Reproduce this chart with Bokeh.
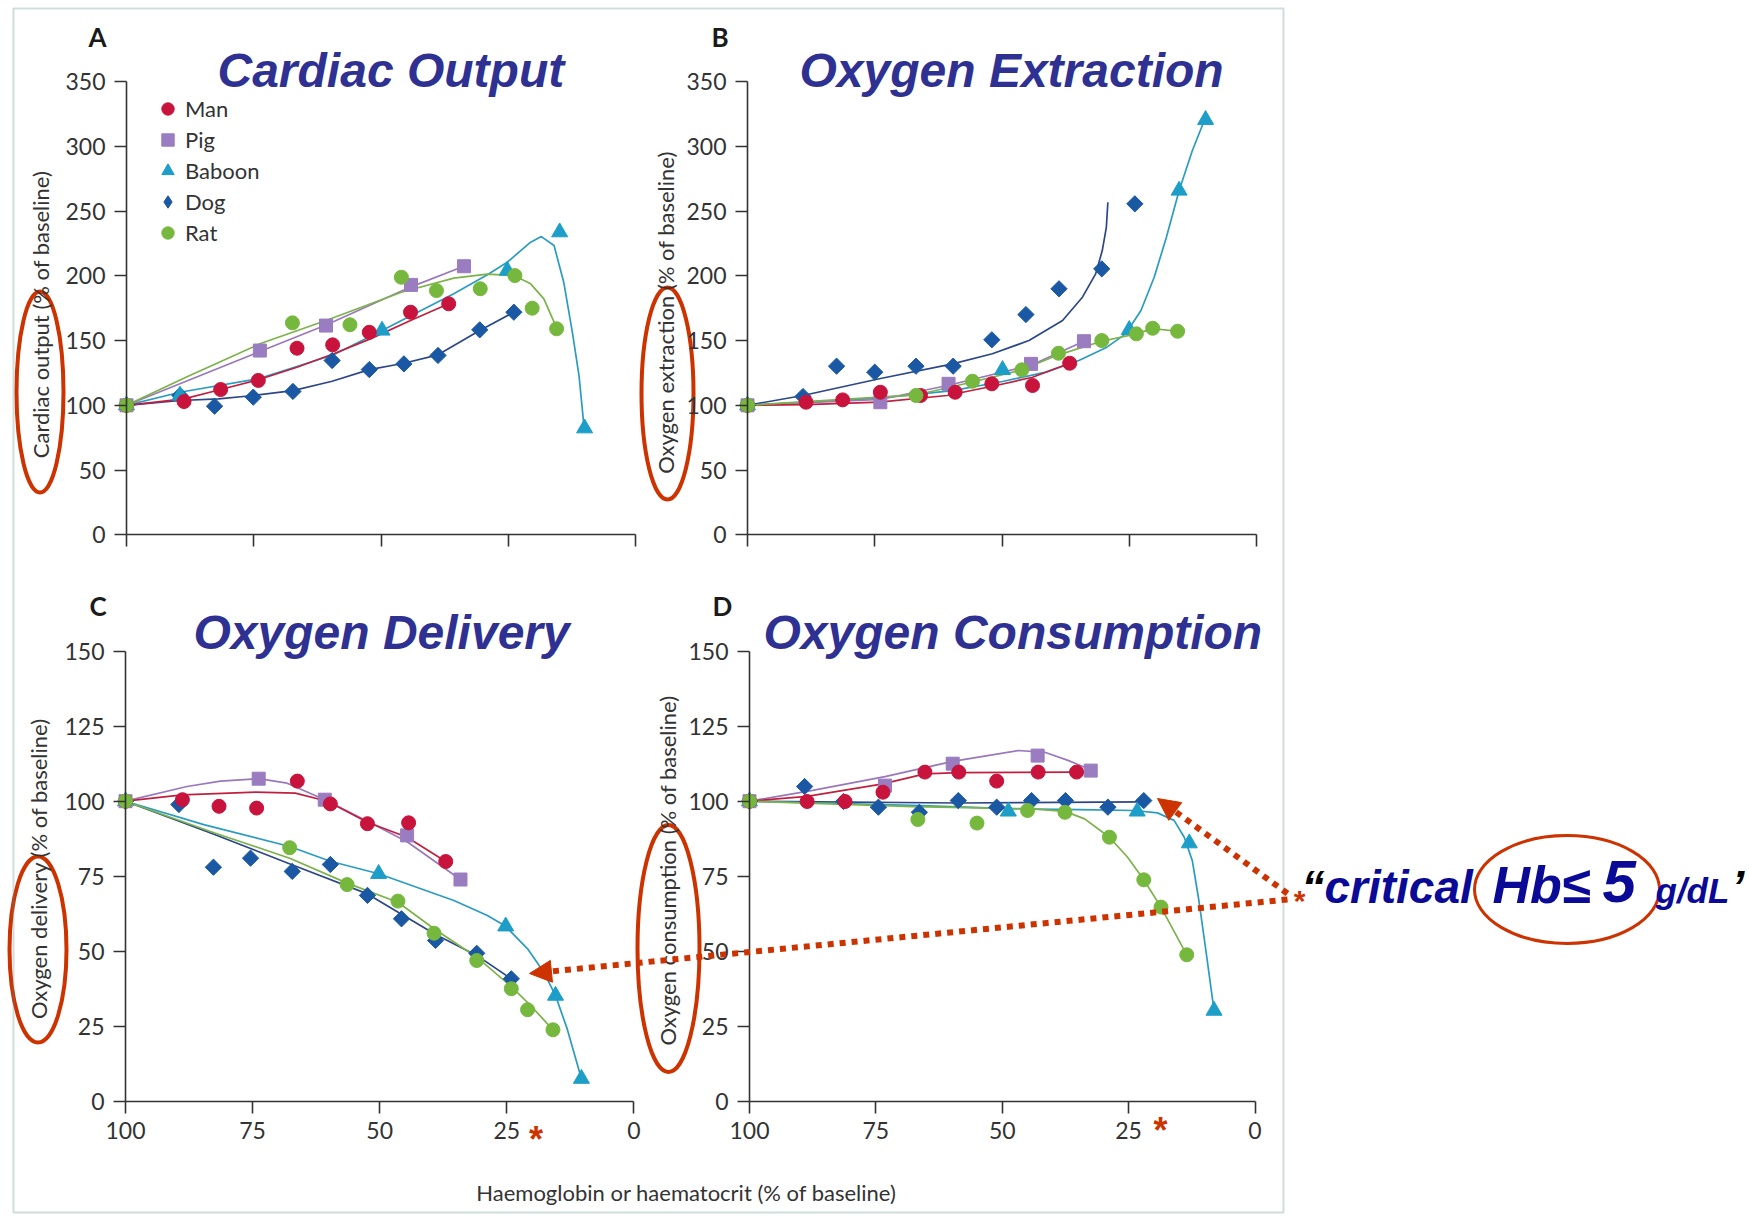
import math
from bokeh.plotting import figure
from bokeh.models import (Range1d, LinearAxis, FixedTicker, Label, Arrow, NormalHead,
                          Legend, LegendItem, BoxAnnotation)
from bokeh.embed import file_html
from bokeh.resources import INLINE

W, H = 1749, 1218

# ---------------- data (x = haemoglobin % of baseline) ----------------
SPECIES = ["Man", "Pig", "Baboon", "Dog", "Rat"]
X_TICKS = [0, 25, 50, 75, 100]
X_TICK_LABELS = ["0", "25", "50", "75", "100"]

# A  Cardiac output
co_man_x = [100, 88.7, 81.5, 74.1, 66.5, 59.5, 52.3, 44.2, 36.7]
co_man_y = [100, 102.9, 112.2, 119.2, 144.1, 146.7, 156.4, 171.9, 178.4]
co_man_fx = [100, 88.7, 81.5, 74.1, 66.5, 59.3, 52.1, 44.2, 36.7]
co_man_fy = [100, 105.0, 112.2, 119.7, 129.4, 139.8, 151.3, 165.5, 178.4]
co_pig_x = [100, 73.8, 60.8, 44.1, 33.7]
co_pig_y = [100, 142.3, 161.6, 193.0, 207.4]
co_pig_fx = [100, 73.8, 60.8, 44.1, 33.7]
co_pig_fy = [100, 141.5, 162.0, 191.5, 207.4]
co_bab_x = [100, 89.5, 49.8, 25.2, 14.9, 10.0]
co_bab_y = [100, 107.6, 157.8, 204.1, 233.7, 82.3]
co_bab_fx = [100, 89.5, 74.1, 59.3, 49.8, 35.7, 29.1, 25.2, 20.6, 18.5, 16.0, 14.1, 12.4, 11.1, 10.2]
co_bab_fy = [100, 110.1, 120.5, 139.0, 157.8, 186.1, 200.8, 210.5, 226.0, 230.3, 223.4, 195.1, 156.4, 123.0, 87.0]
co_dog_x = [100, 89.5, 82.7, 75.1, 67.3, 59.6, 52.3, 45.5, 38.8, 30.6, 23.9]
co_dog_y = [100, 107.6, 99.3, 106.3, 110.7, 134.6, 127.6, 132.0, 138.5, 158.3, 171.9]
co_dog_fx = [100, 89.4, 81.9, 75.0, 67.3, 59.6, 52.3, 45.5, 38.8, 30.6, 23.9]
co_dog_fy = [100, 103.7, 105.0, 107.6, 111.4, 118.6, 127.6, 132.5, 139.0, 157.8, 171.9]
co_rat_x = [100, 67.4, 56.1, 46.0, 39.1, 30.5, 23.7, 20.3, 15.5]
co_rat_y = [100, 163.7, 162.2, 198.9, 188.6, 190.0, 200.2, 175.0, 159.1]
co_rat_fx = [100, 88.1, 73.8, 60.8, 46.0, 35.7, 29.1, 23.9, 20.6, 18.0, 16.0, 15.5]
co_rat_fy = [100, 122.0, 147.5, 165.5, 187.3, 198.2, 201.3, 200.2, 193.8, 182.2, 164.2, 158.4]

# B  Oxygen extraction
oe_man_x = [100, 88.5, 81.3, 73.9, 66.0, 59.2, 52.0, 44.0, 36.7]
oe_man_y = [100, 102.4, 104.2, 110.1, 107.6, 110.1, 116.6, 115.3, 132.5]
oe_man_fx = [100, 88.5, 74.1, 60.8, 51.2, 44.0, 36.7]
oe_man_fy = [100, 100.6, 102.4, 107.6, 115.3, 121.7, 132.5]
oe_pig_x = [100, 73.9, 60.5, 44.3, 33.9]
oe_pig_y = [100, 102.4, 116.6, 132.0, 149.5]
oe_pig_fx = [100, 73.9, 60.5, 44.3, 33.9]
oe_pig_fy = [100, 104.5, 115.5, 131.0, 149.5]
oe_bab_x = [100, 49.9, 25.0, 15.2, 10.0]
oe_bab_y = [100, 127.4, 158.3, 265.9, 320.5]
oe_bab_fx = [100, 74.1, 59.7, 49.9, 41.4, 34.9, 29.6, 25.7, 22.7, 20.1, 17.7, 15.2, 12.6, 10.0]
oe_bab_fy = [100, 105.5, 111.4, 118.4, 125.6, 134.6, 144.4, 155.2, 173.2, 198.9, 229.8, 265.9, 296.8, 322.5]
oe_dog_x = [100, 89.1, 82.5, 75.0, 66.9, 59.6, 52.0, 45.3, 38.8, 30.4, 23.9]
oe_dog_y = [100, 106.8, 130.2, 125.6, 130.2, 130.2, 150.6, 170.1, 190.0, 205.4, 255.6]
oe_dog_fx = [100, 89.1, 74.1, 59.7, 51.9, 44.7, 38.1, 34.2, 31.6, 30.3, 29.5, 29.2]
oe_dog_fy = [100, 107.6, 120.5, 132.0, 139.8, 150.0, 165.5, 183.5, 201.5, 219.5, 237.5, 256.8]
oe_rat_x = [100, 66.9, 55.8, 46.1, 38.9, 30.4, 23.6, 20.4, 15.5]
oe_rat_y = [100, 107.6, 118.6, 127.4, 140.2, 150.0, 155.2, 159.5, 157.2]
oe_rat_fx = [100, 66.9, 55.8, 46.1, 38.9, 30.4, 23.6, 20.4, 15.5]
oe_rat_fy = [100, 108.0, 118.0, 127.4, 139.0, 149.5, 155.2, 159.2, 157.2]

# C  Oxygen delivery
od_man_x = [100, 88.8, 81.6, 74.2, 66.2, 59.7, 52.4, 44.3, 37.0]
od_man_y = [100, 100.5, 98.3, 97.7, 106.7, 99.1, 92.5, 92.8, 79.9]
od_man_fx = [100, 88.8, 74.4, 66.6, 60.3, 52.4, 44.6, 37.0]
od_man_fy = [100, 102.1, 103.0, 102.7, 100.0, 93.0, 88.0, 79.9]
od_pig_x = [100, 73.8, 60.8, 44.6, 34.1]
od_pig_y = [100, 107.5, 100.5, 88.6, 73.9]
od_pig_fx = [100, 87.9, 81.3, 73.8, 68.2, 60.8, 52.4, 44.6, 34.1]
od_pig_fy = [100, 104.9, 106.7, 107.5, 106.0, 100.5, 93.3, 86.5, 73.9]
od_bab_x = [100, 50.2, 25.2, 15.4, 10.3]
od_bab_y = [100, 75.8, 58.3, 35.2, 7.5]
od_bab_fx = [100, 84.6, 67.7, 59.7, 50.2, 35.4, 28.8, 25.2, 20.9, 17.7, 15.4, 13.1, 10.3]
od_bab_fy = [100, 92.2, 84.9, 80.0, 75.8, 66.9, 61.9, 58.3, 50.8, 43.0, 35.2, 24.1, 7.5]
od_dog_x = [100, 89.5, 82.7, 75.4, 67.2, 59.7, 52.4, 45.7, 39.0, 30.9, 24.1]
od_dog_y = [100, 98.9, 78.0, 81.0, 76.6, 78.9, 68.6, 60.8, 53.6, 49.3, 40.8]
od_dog_fx = [100, 82.6, 67.5, 52.4, 39.0, 30.9, 24.1]
od_dog_fy = [100, 89.0, 79.0, 69.1, 55.6, 48.6, 40.8]
od_rat_x = [100, 67.7, 56.4, 46.4, 39.3, 30.9, 24.1, 20.9, 15.9]
od_rat_y = [100, 84.5, 72.2, 66.7, 56.0, 46.9, 37.5, 30.5, 23.8]
od_rat_fx = [100, 82.6, 67.7, 56.4, 46.4, 39.3, 30.9, 24.1, 20.3, 15.9]
od_rat_fy = [100, 89.5, 81.0, 72.7, 66.3, 57.5, 48.0, 38.2, 31.9, 23.8]

# D  Oxygen consumption
oc_man_x = [100, 88.6, 81.1, 73.6, 65.3, 58.6, 51.1, 42.9, 35.3]
oc_man_y = [100, 99.9, 99.9, 103.0, 109.7, 109.7, 106.7, 109.7, 109.7]
oc_man_fx = [100, 88.6, 73.6, 65.3, 58.6, 35.3]
oc_man_fy = [100, 101.6, 105.8, 109.1, 109.5, 109.7]
oc_pig_x = [100, 73.2, 59.8, 43.0, 32.5]
oc_pig_y = [100, 105.2, 112.5, 115.2, 110.2]
oc_pig_fx = [100, 87.5, 73.2, 59.8, 46.8, 41.6, 37.0, 32.5]
oc_pig_fy = [100, 103.6, 108.2, 113.3, 116.9, 116.3, 113.6, 110.5]
oc_bab_x = [100, 48.8, 23.3, 13.0, 8.1]
oc_bab_y = [100, 96.6, 96.6, 86.0, 30.2]
oc_bab_fx = [100, 67.8, 48.2, 35.0, 23.9, 19.3, 16.0, 14.0, 12.4, 11.1, 9.8, 8.1]
oc_bab_fy = [100, 98.6, 97.5, 97.2, 96.9, 96.1, 93.6, 88.0, 80.2, 66.9, 51.3, 30.2]
oc_dog_x = [100, 89.1, 81.4, 74.5, 66.4, 58.7, 51.1, 44.2, 37.5, 29.1, 22.0]
oc_dog_y = [100, 104.9, 99.9, 98.0, 96.3, 100.2, 98.0, 100.2, 100.2, 98.0, 100.2]
oc_dog_fx = [100, 58.7, 22.0]
oc_dog_fy = [100, 99.4, 99.8]
oc_rat_x = [100, 66.7, 55.0, 45.0, 37.6, 28.8, 22.0, 18.6, 13.5]
oc_rat_y = [100, 93.9, 92.7, 96.9, 96.3, 88.0, 73.8, 64.7, 48.8]
oc_rat_fx = [100, 67.8, 45.0, 37.6, 33.7, 28.8, 25.2, 22.0, 18.6, 13.5]
oc_rat_fy = [100, 98.2, 97.5, 96.6, 94.1, 88.0, 81.3, 73.8, 64.7, 48.8]

# ---------------- styling ----------------
MARK_COL = {"Man": "#c8143c", "Pig": "#9a7cc0", "Baboon": "#1c9ec8",
            "Dog": "#1b58a4", "Rat": "#76b83e"}
LINE_COL = {"Man": "#c0203f", "Pig": "#9a78bc", "Baboon": "#2a9cc2",
            "Dog": "#2c4788", "Rat": "#7cb24a"}
MARKER = {"Man": ("circle", 14, 0.0), "Pig": ("square", 13, 0.0),
          "Baboon": ("triangle", 16, 0.0), "Dog": ("square", 11.5, math.pi / 4),
          "Rat": ("circle", 14, 0.0)}
DRAW_ORDER = ["Dog", "Baboon", "Pig", "Man", "Rat"]
AXC = "#333333"
TXT = "#333333"
RED = "#cc3300"
TITLE_COL = "#2e3192"
CRIT_COL = "#0a0a96"

p = figure(width=W, height=H, x_range=Range1d(0, W), y_range=Range1d(H, 0),
           x_axis_type=None, y_axis_type=None, output_backend="svg",
           toolbar_location=None, min_border=0)
p.outline_line_color = None
p.background_fill_color = "white"
p.border_fill_color = "white"

# panel geometry: key, px of x=100, px of x=0, py of y=0, py of y=ymax, ymax, ystep, show x labels
PANELS = [
    ("A", 126.0, 635.0, 534.3, 81.1, 350, 50, False,
     {"Man": (co_man_x, co_man_y, co_man_fx, co_man_fy),
      "Pig": (co_pig_x, co_pig_y, co_pig_fx, co_pig_fy),
      "Baboon": (co_bab_x, co_bab_y, co_bab_fx, co_bab_fy),
      "Dog": (co_dog_x, co_dog_y, co_dog_fx, co_dog_fy),
      "Rat": (co_rat_x, co_rat_y, co_rat_fx, co_rat_fy)}),
    ("B", 747.0, 1256.0, 534.3, 81.1, 350, 50, False,
     {"Man": (oe_man_x, oe_man_y, oe_man_fx, oe_man_fy),
      "Pig": (oe_pig_x, oe_pig_y, oe_pig_fx, oe_pig_fy),
      "Baboon": (oe_bab_x, oe_bab_y, oe_bab_fx, oe_bab_fy),
      "Dog": (oe_dog_x, oe_dog_y, oe_dog_fx, oe_dog_fy),
      "Rat": (oe_rat_x, oe_rat_y, oe_rat_fx, oe_rat_fy)}),
    ("C", 125.0, 633.3, 1100.7, 650.7, 150, 25, True,
     {"Man": (od_man_x, od_man_y, od_man_fx, od_man_fy),
      "Pig": (od_pig_x, od_pig_y, od_pig_fx, od_pig_fy),
      "Baboon": (od_bab_x, od_bab_y, od_bab_fx, od_bab_fy),
      "Dog": (od_dog_x, od_dog_y, od_dog_fx, od_dog_fy),
      "Rat": (od_rat_x, od_rat_y, od_rat_fx, od_rat_fy)}),
    ("D", 749.0, 1254.5, 1100.7, 650.7, 150, 25, True,
     {"Man": (oc_man_x, oc_man_y, oc_man_fx, oc_man_fy),
      "Pig": (oc_pig_x, oc_pig_y, oc_pig_fx, oc_pig_fy),
      "Baboon": (oc_bab_x, oc_bab_y, oc_bab_fx, oc_bab_fy),
      "Dog": (oc_dog_x, oc_dog_y, oc_dog_fx, oc_dog_fy),
      "Rat": (oc_rat_x, oc_rat_y, oc_rat_fx, oc_rat_fy)}),
]

xr, yr = {}, {}
for key, x100, x0, yb, yt, ymax, ystep, xl, data in PANELS:
    sx = (x0 - x100) / 100.0
    xr[key + "x"] = Range1d(start=100 + x100 / sx, end=100 - (W - x100) / sx)
    sy = (yb - yt) / float(ymax)
    yr[key + "y"] = Range1d(start=(yb - H) / sy, end=yb / sy)
p.extra_x_ranges = xr
p.extra_y_ranges = yr


def style_axis(ax):
    ax.axis_line_color = AXC
    ax.axis_line_width = 1.6
    ax.major_tick_line_color = AXC
    ax.major_tick_line_width = 1.6
    ax.major_tick_in = 0
    ax.major_tick_out = 12
    ax.minor_tick_line_color = None
    ax.major_label_text_font = "Lato"
    ax.major_label_text_font_size = "23px"
    ax.major_label_text_color = TXT
    ax.major_label_standoff = 9


legend_renderers = {}
for key, x100, x0, yb, yt, ymax, ystep, xl, data in PANELS:
    xn, yn = key + "x", key + "y"
    xa = LinearAxis(x_range_name=xn, y_range_name=yn, fixed_location=0,
                    bounds=(0, 100), ticker=FixedTicker(ticks=X_TICKS))
    style_axis(xa)
    if xl:
        xa.major_label_overrides = dict(zip(X_TICKS, X_TICK_LABELS))
    else:
        xa.major_label_overrides = {t: "" for t in X_TICKS}
    p.add_layout(xa, "below")
    ya = LinearAxis(x_range_name=xn, y_range_name=yn, fixed_location=100,
                    bounds=(0, ymax), ticker=FixedTicker(ticks=list(range(0, ymax + 1, ystep))))
    style_axis(ya)
    p.add_layout(ya, "left")

    for s in DRAW_ORDER:
        mx, my, fx, fy = data[s]
        p.line(x=fx, y=fy, x_range_name=xn, y_range_name=yn,
               line_color=LINE_COL[s], line_width=1.7)
    for s in DRAW_ORDER:
        mx, my, fx, fy = data[s]
        mk, sz, ang = MARKER[s]
        if key == "A" and s == "Dog":
            # diamond key for the legend, hidden beneath the rotated-square markers
            legend_renderers[s] = p.scatter(x=mx, y=my, x_range_name=xn, y_range_name=yn,
                                            marker="diamond", size=14,
                                            fill_color=MARK_COL[s], line_color=MARK_COL[s])
        r = p.scatter(x=mx, y=my, x_range_name=xn, y_range_name=yn, marker=mk,
                      size=sz, angle=ang, fill_color=MARK_COL[s], line_color=MARK_COL[s],
                      line_width=1)
        if key == "A" and s != "Dog":
            legend_renderers[s] = r

legend = Legend(items=[LegendItem(label=s, renderers=[legend_renderers[s]]) for s in SPECIES],
                location=(152, 970), orientation="vertical",
                glyph_width=31, glyph_height=31, label_height=20, spacing=0,
                padding=0, margin=0, label_standoff=2,
                label_text_font="Lato", label_text_font_size="22px", label_text_color=TXT,
                border_line_color=None, background_fill_alpha=0)
p.add_layout(legend)

# ---------------- texts ----------------
def lab(x, y, text, size, color=TXT, font="Lato", style="normal", align="left",
        baseline="middle", angle=0.0):
    p.add_layout(Label(x=x, y=y, text=text, text_font=font, text_font_size=size,
                       text_font_style=style, text_color=color, text_align=align,
                       text_baseline=baseline, angle=angle))

TITLES = [("Cardiac Output", 217, 70), ("Oxygen Extraction", 799, 70),
          ("Oxygen Delivery", 193, 632), ("Oxygen Consumption", 763, 632)]
for t, x, y in TITLES:
    lab(x, y, t, "48px", TITLE_COL, "Liberation Sans", "bold italic")

for t, x, y in [("A", 88, 36), ("B", 711, 36), ("C", 89, 605), ("D", 712, 605)]:
    lab(x, y, t, "26px", "#1a1a1a", "Lato", "bold")

YLABELS = [("Cardiac output (% of baseline)", 40, 314),
           ("Oxygen extraction (% of baseline)", 665, 312),
           ("Oxygen delivery (% of baseline)", 38, 868),
           ("Oxygen consumption (% of baseline)", 667, 870)]
for t, x, y in YLABELS:
    lab(x, y, t, "22px", TXT, "Lato", "normal", "center", "middle", math.pi / 2)

lab(686, 1192, "Haemoglobin or haematocrit (% of baseline)", "22px", TXT, "Lato",
    "normal", "center", "middle")

# red highlight ellipses
p.ellipse(x=[39.5, 667, 37.5, 668, 1566.5], y=[391.5, 393, 949, 948, 889],
          width=[47, 52, 57, 62, 185], height=[201, 212, 186, 247, 108],
          fill_color=None, line_color=RED, line_width=[4, 4, 4, 4, 3])

# frame
p.add_layout(BoxAnnotation(left=13, right=1283, top=8, bottom=1212, fill_alpha=0,
                           line_color="#5f8f8f", line_width=2))

# dotted arrows
for xs, ys, xe, ye in [(1287, 893, 1157, 798), (1287, 899, 529, 973)]:
    p.add_layout(Arrow(x_start=xs, y_start=ys, x_end=xe, y_end=ye,
                       line_color=RED, line_width=6, line_dash="6 6",
                       end=NormalHead(size=22, fill_color=RED, line_color=RED)))

# asterisks
lab(535.5, 1139, "*", "36px", RED, "Liberation Sans", "bold", "center")
lab(1160, 1130, "*", "36px", RED, "Liberation Sans", "bold", "center")
lab(1299, 900, "*", "30px", RED, "Liberation Sans", "bold", "center")

# critical Hb text (common baseline ~902)
lab(1301, 886, "\u201c", "46px", "black", "Liberation Sans", "bold italic")
lab(1324, 886, "critical", "46px", CRIT_COL, "Liberation Sans", "bold italic")
lab(1492, 884, "Hb\u2264", "52px", CRIT_COL, "Liberation Sans", "bold italic")
lab(1602, 881, "5", "60px", CRIT_COL, "Liberation Sans", "bold italic")
lab(1655, 890, "g/dL", "35px", CRIT_COL, "Liberation Sans", "bold italic")
lab(1731, 886, "\u2019", "46px", "black", "Liberation Sans", "bold italic")

open("out.html", "w").write(file_html(p, INLINE))
